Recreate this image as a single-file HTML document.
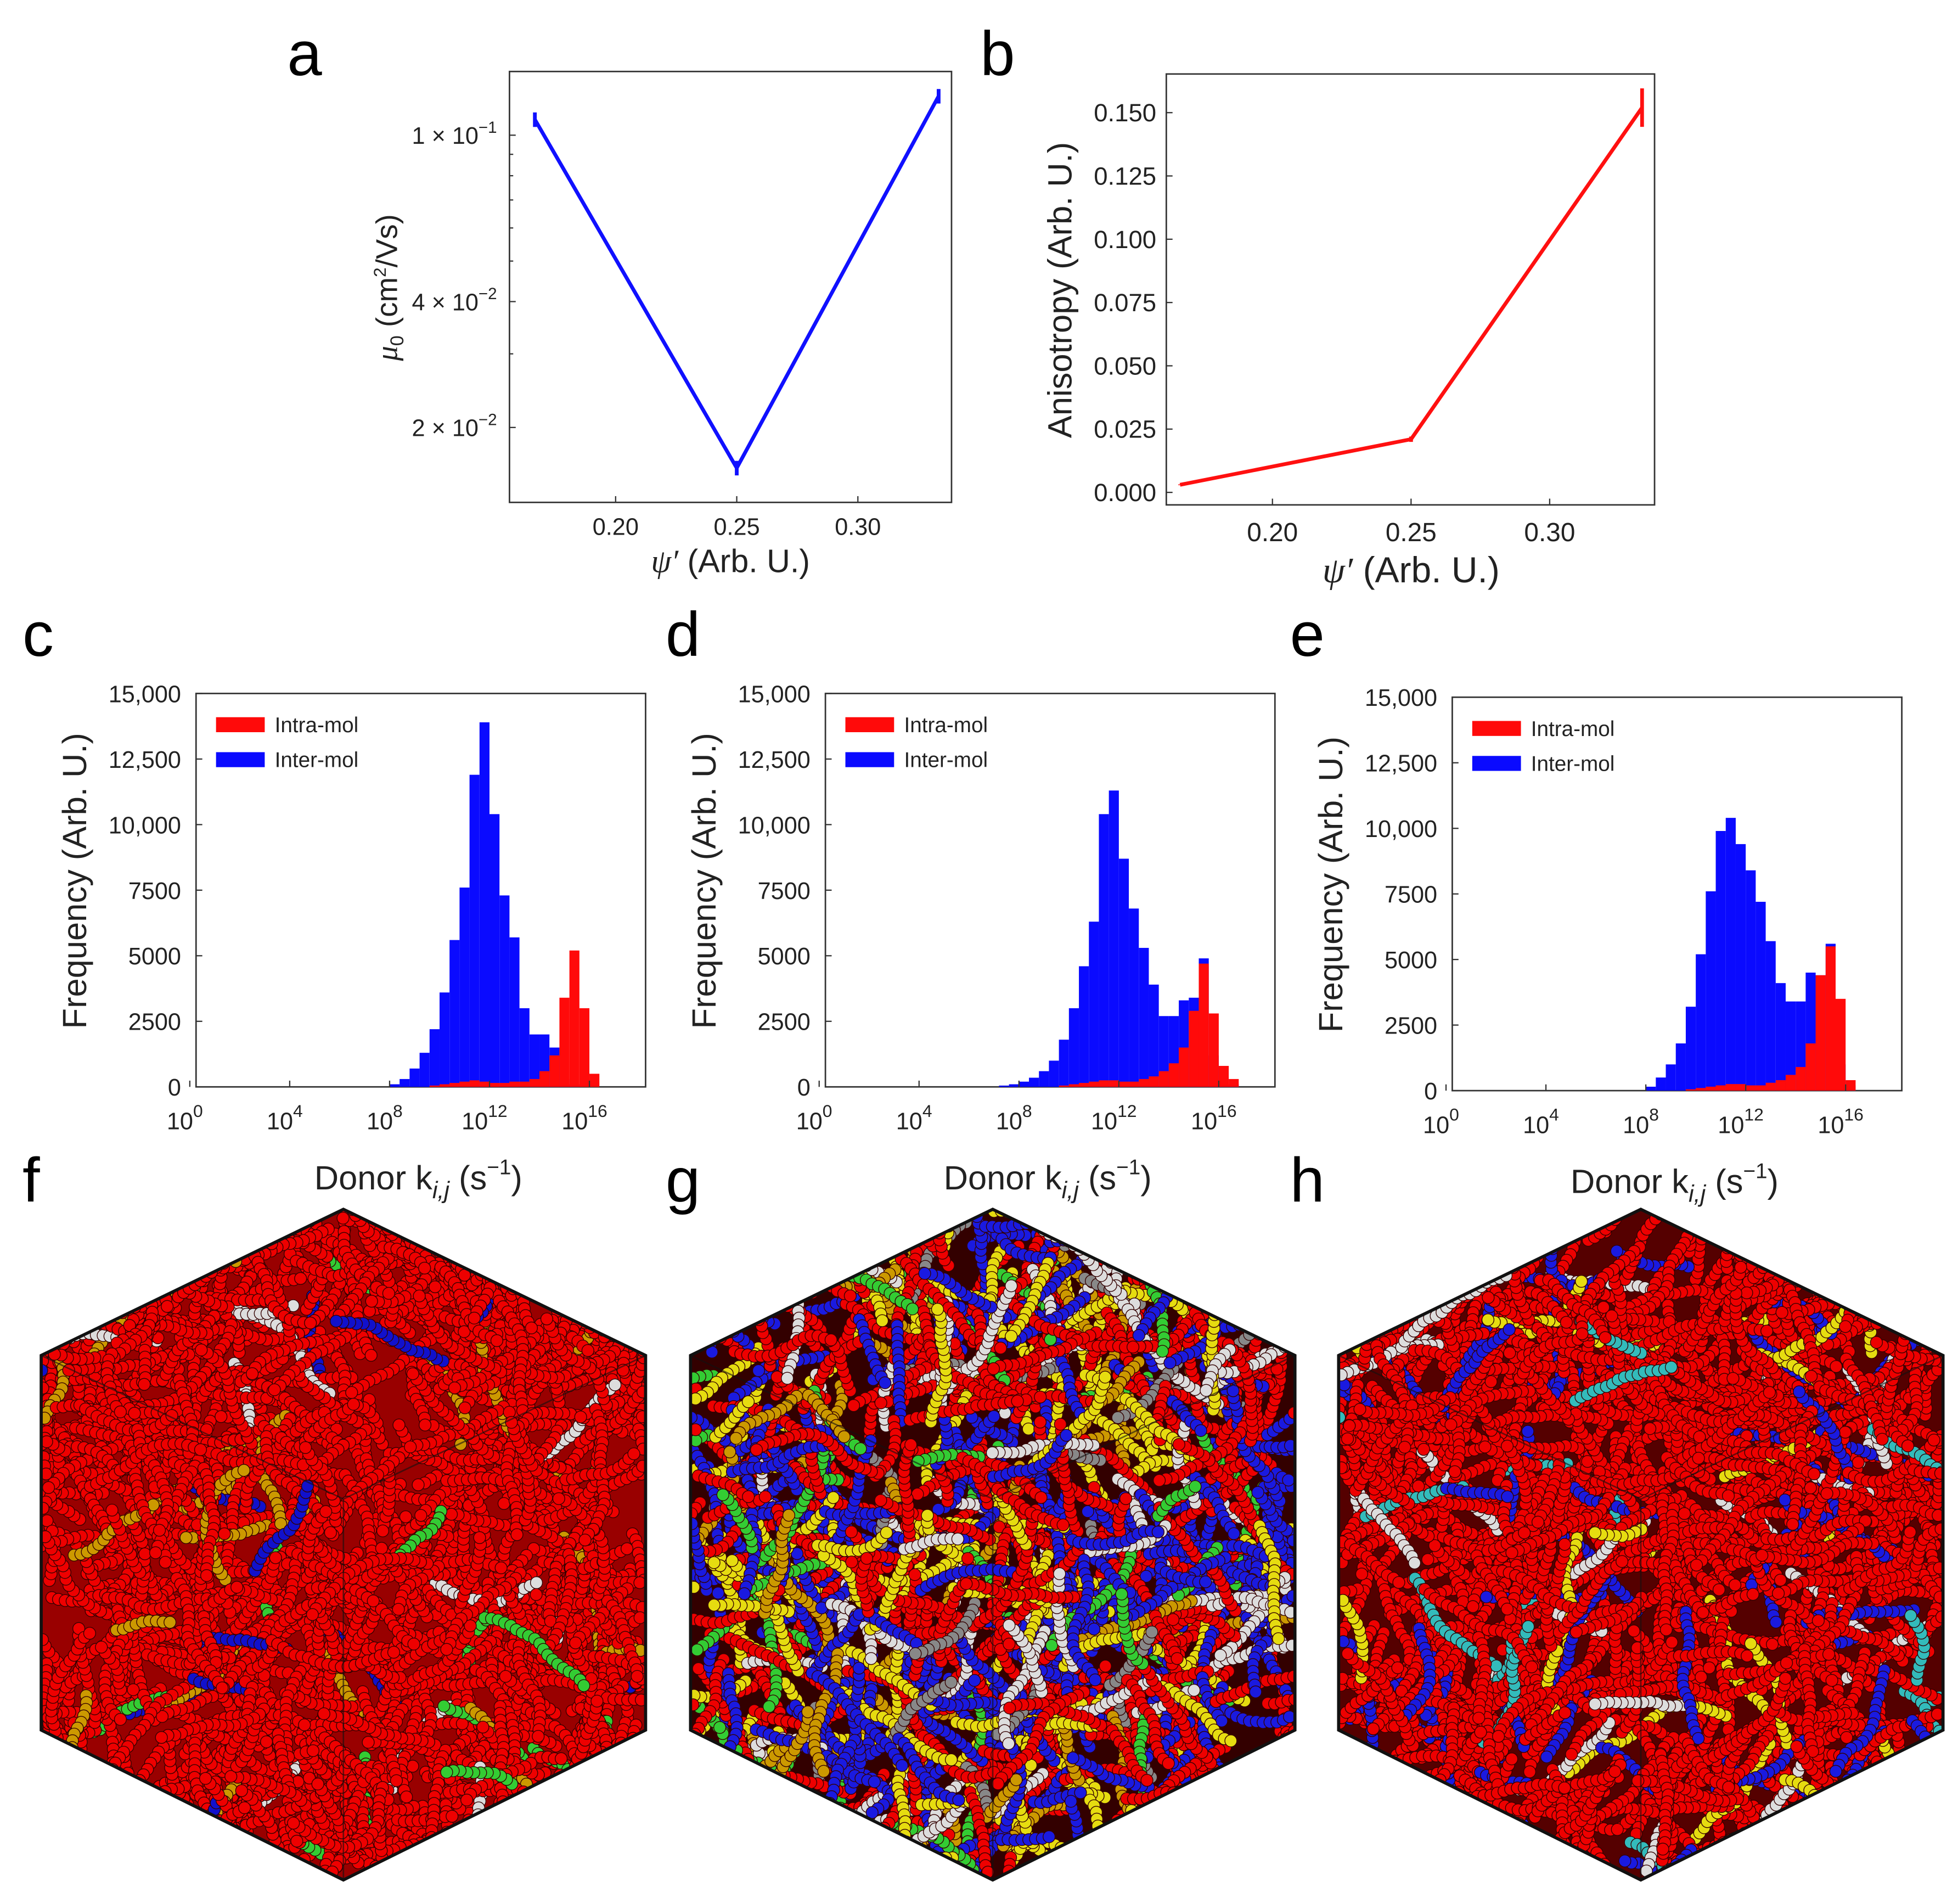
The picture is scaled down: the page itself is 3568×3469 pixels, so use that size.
<!DOCTYPE html>
<html><head><meta charset="utf-8"><style>
html,body{margin:0;padding:0;background:#fff;width:3568px;height:3469px;overflow:hidden;}
svg{display:block;font-family:"Liberation Sans",sans-serif;}
</style></head><body>
<svg id="fig" width="3568" height="3469" viewBox="0 0 1568 1524" xmlns="http://www.w3.org/2000/svg" overflow="hidden">
<rect width="1568" height="1524" fill="#fff"/>
<g font-size="50" fill="#000">
<text x="230" y="60">a</text>
<text x="785" y="60">b</text>
<text x="18" y="525">c</text>
<text x="533" y="525">d</text>
<text x="1033" y="525">e</text>
<text x="18" y="962">f</text>
<text x="533" y="962">g</text>
<text x="1033" y="962">h</text>
</g>
<g id="pa"></g>
<g id="pb"></g>
<g id="pc"></g>
<g id="pd"></g>
<g id="pe"></g>
<g id="cubes"></g>
</svg>
<script>
// ---- data ----
const psiValues = [1/6, 0.25, 1/3];
const mobilityValues = [0.109, 0.0160, 0.124];
const anisotropyValues = [0.003, 0.021, 0.152];
const aYTickVals = [0.1, 0.04, 0.02];
const aYTickMant = ["1", "4", "2"];
const aYTickExp = ["\u22121", "\u22122", "\u22122"];
const xTickPsi = [0.20, 0.25, 0.30];
const xTickPsiLabels = ["0.20", "0.25", "0.30"];
const bYTicks = [0, 0.025, 0.05, 0.075, 0.1, 0.125, 0.15];
const bYTickLabels = ["0.000","0.025","0.050","0.075","0.100","0.125","0.150"];
const histBinCenters = [7.4,7.8,8.2,8.6,9.0,9.4,9.8,10.2,10.6,11.0,11.4,11.8,12.2,12.6,13.0,13.4,13.8,14.2,14.6,15.0,15.4,15.8,16.2,16.6];
const cInter = [0,0,100,300,700,1300,2200,3600,5600,7600,11900,13900,10400,7300,5700,3000,2000,2000,1500,300,100,0,0,0];
const cIntra = [0,0,0,0,0,0,50,100,150,200,250,200,150,150,200,200,300,600,1200,3400,5200,3000,500,0];
const dInter = [50,100,200,350,600,1000,1800,3000,4600,6300,10400,11300,8700,6800,5300,3900,2700,2700,3300,3400,4900,1200,300,100];
const dIntra = [0,0,0,0,0,0,50,100,150,200,250,250,200,200,300,400,600,900,1500,2900,4700,2800,800,300];
const eInter = [0,0,150,500,1000,1800,3200,5200,7600,9900,10400,9400,8400,7200,5700,4100,3400,3400,4500,4400,5600,1000,200,0];
const eIntra = [0,0,0,0,0,0,50,100,150,200,250,250,200,200,300,400,600,900,1800,4400,5500,3500,400,0];
const histYTicks = [0,2500,5000,7500,10000,12500,15000];
const histYTickLabels = ["0","2500","5000","7500","10,000","12,500","15,000"];
const histXTicks = [0,4,8,12,16];
const histXTickLabels = ["0","4","8","12","16"];
const binWidth = 0.4;

const NS = "http://www.w3.org/2000/svg";
function mk(parent, tag, attrs, text){
  const e = document.createElementNS(NS, tag);
  for (const k in attrs) e.setAttribute(k, attrs[k]);
  if (text !== undefined) e.textContent = text;
  parent.appendChild(e);
  return e;
}

// ---- panel a ----
(function(){
  const g = document.getElementById('pa');
  const X0=408,X1=762,Y0=57,Y1=402;
  const x = v => 590 + (v-0.25)*1940;
  const y = v => 108 - (Math.log10(v)+1)*334.8;
  const fr = mk(g,'rect',{x:X0,y:Y0,width:X1-X0,height:Y1-Y0,fill:'none',stroke:'#333','stroke-width':1.2});
  
  
  xTickPsi.forEach((v,i)=>{
    mk(g,'line',{x1:x(v),x2:x(v),y1:Y1,y2:Y1-5,stroke:'#333'});
    const t = mk(g,'text',{x:x(v),y:Y1+26,'font-size':19,'text-anchor':'middle',fill:'#222'},xTickPsiLabels[i]);
    
    
  });
  aYTickVals.forEach((v,i)=>{
    mk(g,'line',{x1:X0,x2:X0+5,y1:y(v),y2:y(v),stroke:'#333'});
    const t = mk(g,'text',{x:X0-10,y:y(v)+7,'font-size':19,'text-anchor':'end',fill:'#222'});
    
    
    t.innerHTML = aYTickMant[i]+' \u00d7 10<tspan dy="-9" font-size="13">'+aYTickExp[i]+'</tspan>';
  });
  [0.03,0.05,0.06,0.07,0.08,0.09,0.2].forEach(v=>{ if(y(v)>Y0&&y(v)<Y1) mk(g,'line',{x1:X0,x2:X0+3,y1:y(v),y2:y(v),stroke:'#333'}); });
  const pts = psiValues.map((p,i)=>x(p)+','+y(mobilityValues[i])).join(' ');
  const l = mk(g,'polyline',{points:pts,fill:'none',stroke:'#1010ff','stroke-width':3});
  
  
  psiValues.forEach((p,i)=>mk(g,'line',{x1:x(p),x2:x(p),y1:y(mobilityValues[i]*0.96),y2:y(mobilityValues[i]*1.04),stroke:'#1010ff','stroke-width':3}));
  const xl = mk(g,'text',{x:585,y:458,'font-size':26,'text-anchor':'middle',fill:'#222'});
  
  
  xl.innerHTML='<tspan font-style="italic" font-family="Liberation Serif">\u03c8\u2032</tspan> (Arb. U.)';
  const yl = mk(g,'text',{transform:'translate(318,230) rotate(-90)','font-size':24,'text-anchor':'middle',fill:'#222'});
  
  
  yl.innerHTML='<tspan font-style="italic" font-family="Liberation Serif">\u03bc</tspan><tspan font-size="15" dy="5">0</tspan><tspan dy="-5"> (cm</tspan><tspan font-size="14" dy="-9">2</tspan><tspan dy="9">/Vs)</tspan>';
})();

// ---- panel b ----
(function(){
  const g = document.getElementById('pb');
  const X0=934,X1=1325,Y0=59,Y1=404;
  const x = v => 1130 + (v-0.25)*2220;
  const y = v => 394 - v*2027;
  const fr = mk(g,'rect',{x:X0,y:Y0,width:X1-X0,height:Y1-Y0,fill:'none',stroke:'#333','stroke-width':1.2});
  
  
  xTickPsi.forEach((v,i)=>{
    mk(g,'line',{x1:x(v),x2:x(v),y1:Y1,y2:Y1-5,stroke:'#333'});
    const t = mk(g,'text',{x:x(v),y:Y1+29,'font-size':21,'text-anchor':'middle',fill:'#222'},xTickPsiLabels[i]);
    
    
  });
  bYTicks.forEach((v,i)=>{
    mk(g,'line',{x1:X0,x2:X0+5,y1:y(v),y2:y(v),stroke:'#333'});
    const t = mk(g,'text',{x:X0-8,y:y(v)+7,'font-size':20,'text-anchor':'end',fill:'#222'},bYTickLabels[i]);
    
    
  });
  const pts = psiValues.map((p,i)=>x(p)+','+y(anisotropyValues[i])).join(' ');
  const l = mk(g,'polyline',{points:pts,fill:'none',stroke:'#ff1010','stroke-width':3});
  
  
  psiValues.forEach((p,i)=>mk(g,'line',{x1:x(p),x2:x(p),y1:y(anisotropyValues[i]*0.95),y2:y(anisotropyValues[i]*1.05),stroke:'#ff1010','stroke-width':3}));
  const xl = mk(g,'text',{x:1130,y:466,'font-size':29,'text-anchor':'middle',fill:'#222'});
  
  
  xl.innerHTML='<tspan font-style="italic" font-family="Liberation Serif">\u03c8\u2032</tspan> (Arb. U.)';
  const yl = mk(g,'text',{transform:'translate(858,232) rotate(-90)','font-size':27,'text-anchor':'middle',fill:'#222'},'Anisotropy (Arb. U.)');
  
  
})();

// ---- histograms ----
function hist(id, X0, Y0, inter, intra){
  const g = document.getElementById(id);
  const W=360, H=315, Y1=Y0+H;
  const x = v => X0-5 + v*20;
  const y = v => Y1 - v*H/15000;
  const fr = mk(g,'rect',{x:X0,y:Y0,width:W,height:H,fill:'none',stroke:'#333','stroke-width':1.2});
  
  
  histBinCenters.forEach((c,i)=>{
    const b = mk(g,'rect',{x:x(c-binWidth/2),y:y(inter[i]),width:x(c+binWidth/2)-x(c-binWidth/2),height:Y1-y(inter[i]),fill:'#0a0aff'});
    
    
  });
  histBinCenters.forEach((c,i)=>{
    const b = mk(g,'rect',{x:x(c-binWidth/2),y:y(intra[i]),width:x(c+binWidth/2)-x(c-binWidth/2),height:Y1-y(intra[i]),fill:'#ff0a0a'});
    
    
  });
  histYTicks.forEach((v,i)=>{
    mk(g,'line',{x1:X0,x2:X0+5,y1:y(v),y2:y(v),stroke:'#333'});
    const t = mk(g,'text',{x:X0-12,y:y(v)+7,'font-size':19,'text-anchor':'end',fill:'#222'},histYTickLabels[i]);
    
    
  });
  histXTicks.forEach((v,i)=>{
    mk(g,'line',{x1:x(v),x2:x(v),y1:Y1,y2:Y1-5,stroke:'#333'});
    const t = mk(g,'text',{x:x(v)-4,y:Y1+34,'font-size':19,'text-anchor':'middle',fill:'#222'});
    
    
    t.innerHTML='10<tspan dy="-10" font-size="14">'+histXTickLabels[i]+'</tspan>';
  });
  const lg = mk(g,'g',{});
  
  
  mk(lg,'rect',{x:X0+16,y:Y0+19,width:39,height:12,fill:'#ff0a0a'});
  mk(lg,'text',{x:X0+63,y:Y0+31,'font-size':17,fill:'#222'},'Intra-mol');
  mk(lg,'rect',{x:X0+16,y:Y0+47,width:39,height:12,fill:'#0a0aff'});
  mk(lg,'text',{x:X0+63,y:Y0+59,'font-size':17,fill:'#222'},'Inter-mol');
  const yl = mk(g,'text',{transform:'translate('+(X0-88)+','+(Y0+150)+') rotate(-90)','font-size':27,'text-anchor':'middle',fill:'#222'},'Frequency (Arb. U.)');
  
  
  const xl = mk(g,'text',{x:X0+178,y:Y1+82,'font-size':27,'text-anchor':'middle',fill:'#222'});
  
  
  xl.innerHTML='Donor k<tspan font-style="italic" font-size="19" dy="7">i,j</tspan><tspan dy="-7"> (s</tspan><tspan font-size="17" dy="-12">\u22121</tspan><tspan dy="12">)</tspan>';
}
hist('pc',157,555,cInter,cIntra);
hist('pd',661,555,dInter,dIntra);
hist('pe',1163,558,eInter,eIntra);

// ---- cubes (illustrative texture) ----
(function(){
  const g = document.getElementById('cubes');
  let seed = 12345;
  const rnd = () => (seed = (seed*16807) % 2147483647) / 2147483647;
  const cubes = [
    {cx:275, bg:'#900', cols:[['#e00',0.9],['#c90',0.04],['#11c',0.02],['#3c3',0.02],['#ddd',0.02]]},
    {cx:795, bg:'#300', cols:[['#e00',0.3],['#1a1ae0',0.3],['#e6dc10',0.17],['#ddd',0.07],['#3c3',0.06],['#c90',0.06],['#888',0.04]]},
    {cx:1314, bg:'#500', cols:[['#e00',0.8],['#1a1ae0',0.1],['#e6dc10',0.04],['#ddd',0.03],['#3bb',0.03]]}
  ];
  cubes.forEach((c,ci)=>{
    const hw=242, top=968, ul=1085, ll=1385, bot=1505, mid=1200;
    const pts=[[c.cx,top],[c.cx+hw,ul],[c.cx+hw,ll],[c.cx,bot],[c.cx-hw,ll],[c.cx-hw,ul]];
    const ps = pts.map(p=>p.join(',')).join(' ');
    const cg = mk(g,'g',{});
    
    
    const cp = mk(cg,'clipPath',{id:'clip'+ci});
    mk(cp,'polygon',{points:ps});
    const inner = mk(cg,'g',{'clip-path':'url(#clip'+ci+')'});
    mk(inner,'polygon',{points:ps,fill:c.bg});
    for(let k=0;k<750;k++){
      let r=rnd(),col=c.cols[0][0];
      for(const [cc,w] of c.cols){ if(r<w){col=cc;break;} r-=w; }
      let px=c.cx-hw+rnd()*(2*hw), py=top+rnd()*(bot-top);
      const ang=rnd()*Math.PI*2, n=8+Math.floor(rnd()*14);
      let a=ang;
      for(let j=0;j<n;j++){
        if(px>c.cx-hw && px<c.cx+hw && py>top && py<bot-4)
          mk(inner,'circle',{cx:px.toFixed(1),cy:py.toFixed(1),r:4.8,fill:col,stroke:'#300','stroke-width':0.6});
        a += (rnd()-0.5)*0.6; px += Math.cos(a)*5.5; py += Math.sin(a)*5.5;
      }
    }
    mk(cg,'polygon',{points:ps,fill:'none',stroke:'#111','stroke-width':2.5});
    mk(cg,'polyline',{points:(c.cx-hw)+','+ul+' '+c.cx+','+mid+' '+(c.cx+hw)+','+ul,fill:'none',stroke:'#111','stroke-width':1.2,opacity:0.6});
    mk(cg,'line',{x1:c.cx,y1:mid,x2:c.cx,y2:bot,stroke:'#111','stroke-width':1.2,opacity:0.6});
  });
})();
</script>
</body></html>
